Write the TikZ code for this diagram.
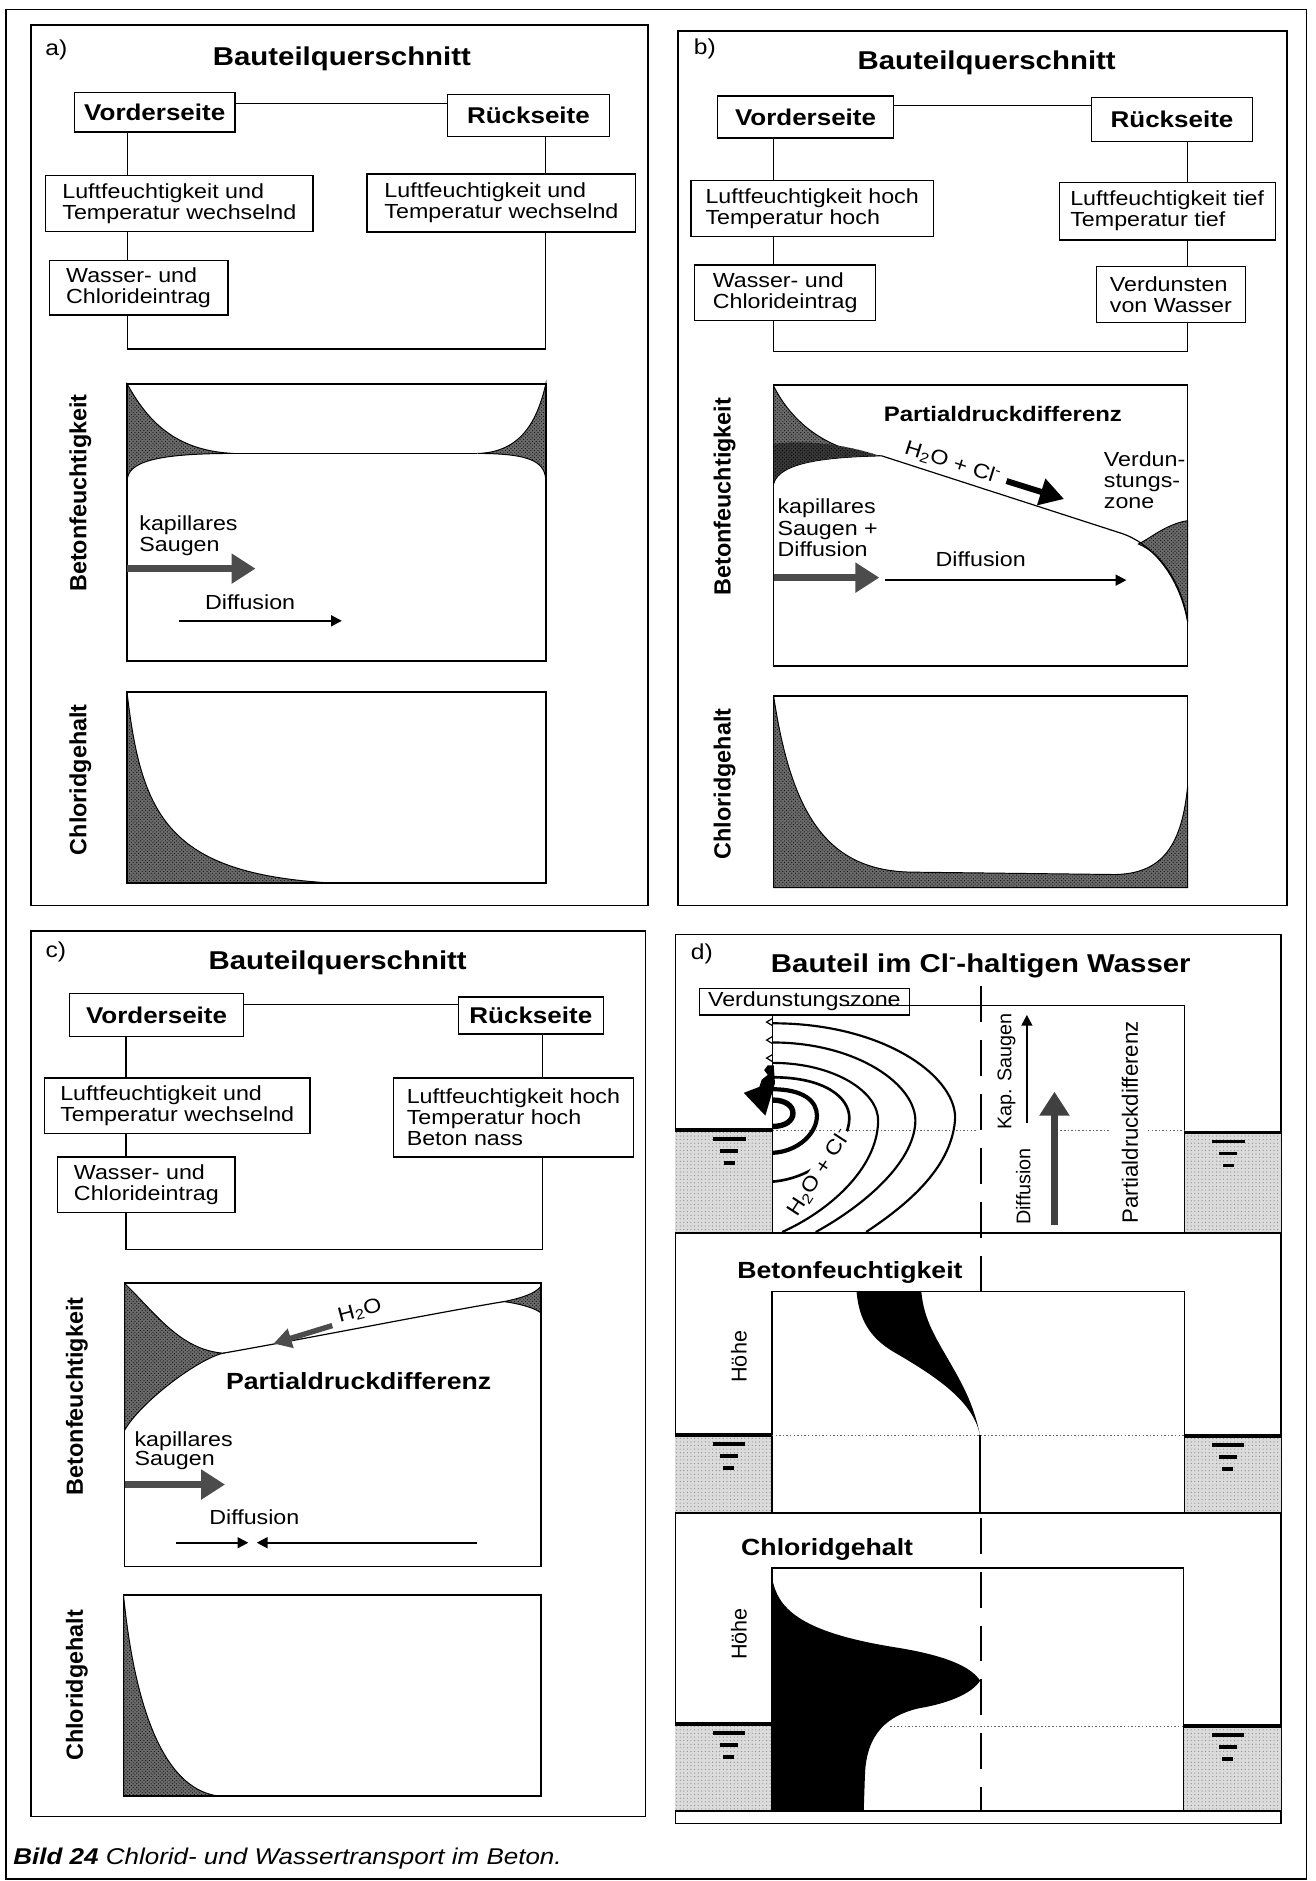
\documentclass[tikz,border=0pt]{standalone}
\usepackage{fontspec}
\setmainfont{Liberation Sans}[FakeStretch=1.14]
\newfontfamily\rotfam{Liberation Sans}
\usetikzlibrary{arrows.meta,patterns}
\newcommand{\fTxt}{\fontsize{17}{17.5}\selectfont}
\newcommand{\fLab}{\fontsize{18}{19}\selectfont}
\newcommand{\fBox}{\fontsize{19}{20}\selectfont\bfseries}
\newcommand{\fTtl}{\fontsize{21.5}{22}\selectfont\bfseries}
\newcommand{\fPdB}{\fontsize{17.5}{18}\selectfont\bfseries}
\newcommand{\fPdC}{\fontsize{19.5}{20}\selectfont\bfseries}
\newcommand{\fHdr}{\fontsize{19.5}{20}\selectfont\bfseries}
\newcommand{\fRotB}{\rotfam\fontsize{19.5}{20}\selectfont\bfseries}
\newcommand{\fRotN}{\rotfam\fontsize{16.5}{17}\selectfont}
\newcommand{\fRotH}{\rotfam\fontsize{18}{19}\selectfont}
\newcommand{\fRotP}{\rotfam\fontsize{18.5}{19}\selectfont}
\newcommand{\fCap}{\fontsize{19}{20}\selectfont}
\newcommand{\wsym}[3]{%
  \fill (#1-13.5,#2+6) rectangle (#1+13.5,#2+9);
  \fill (#1-7.5,#2+16) rectangle (#1+7.5,#2+19);
  \fill (#1-4.5,#2+26) rectangle (#1+4.5,#2+29);}
\tikzset{
  box/.style={draw, line width=1.1pt, fill=white, inner sep=0pt, align=left, font=\fTxt},
  vbox/.style={draw, line width=1.1pt, fill=white, inner sep=0pt, align=center, font=\fBox},
  conn/.style={line width=1.1pt},
  pframe/.style={line width=1.2pt},
  plotbox/.style={line width=1.2pt},
  hatch/.style={fill=black!58, postaction={pattern=crosshatch dots, pattern color=black!95}},
  dhatch/.style={fill=black!78, postaction={pattern=crosshatch dots, pattern color=black}},
  water/.style={fill=black!14, postaction={pattern=dots, pattern color=black!45}},
  fat/.style={line width=6pt, draw=black!70, -{Triangle[length=20pt,width=24pt]}},
  thinarr/.style={line width=1.8pt, -{Triangle[length=9pt,width=9pt]}},
  tx/.style={font=\fTxt, inner sep=0pt},
  ttl/.style={font=\fTtl, inner sep=0pt, anchor=base},
  rotb/.style={font=\fRotB, rotate=90, inner sep=0pt},
  rotn/.style={font=\fRotN, rotate=90, inner sep=0pt},
  crv/.style={line width=1pt},
  wline/.style={line width=3pt},
  dotl/.style={line width=1pt, black!60, dash pattern=on 1.2pt off 1.8pt},
  dashl/.style={line width=2pt, dash pattern=on 30pt off 15pt},
}
\begin{document}
\begin{tikzpicture}[x=1pt,y=-1pt]
\useasboundingbox (0,0) rectangle (1097,1568);
\fill[white] (0,0) rectangle (1097,1568);
% outer frame
\draw[line width=1.5pt] (5,8) rectangle (1089,1566);
\node[anchor=base west, font=\fCap, inner sep=0pt] (cap) at (11,1554) {\textbf{\textit{Bild 24}} \textit{Chlorid- und Wassertransport im Beton.}};

%================ PANEL A ================
\draw[pframe] (26,21) rectangle (540,755);
\node[font=\fLab, inner sep=0pt] (alab) at (47,42) {a)};
\node[ttl] (attl) at (285,55) {Bauteilquerschnitt};
\node[vbox, minimum width=134pt, minimum height=33pt] (aV) at (129,93.5) {Vorderseite};
\node[vbox, minimum width=135pt, minimum height=35pt] (aR) at (440.5,96.5) {Rückseite};
\node[box, minimum width=223pt, minimum height=46.5pt] (aL1) at (149.5,169.75) {Luftfeuchtigkeit und\\Temperatur wechselnd};
\node[box, minimum width=224pt, minimum height=48.5pt] (aR1) at (418,169.25) {Luftfeuchtigkeit und\\Temperatur wechselnd};
\node[box, minimum width=149pt, minimum height=45.5pt] (aW) at (115.5,239.75) {Wasser- und\\Chlorideintrag};
\coordinate (aXl) at (106,0); \coordinate (aXr) at (455,0);
\coordinate (aYt) at (0,86); \coordinate (aYb) at (0,291);
\draw[conn] (aV.east |- aYt) -- (aR.west |- aYt);
\draw[conn] (aV.south -| aXl) -- (aL1.north -| aXl);
\draw[conn] (aL1.south -| aXl) -- (aW.north -| aXl);
\draw[conn] (aW.south -| aXl) -- (aXl |- aYb) -- (aXr |- aYb) -- (aR1.south -| aXr);
\draw[conn] (aR.south -| aXr) -- (aR1.north -| aXr);
% moisture plot a
\path[hatch, draw, line width=0.8pt] (106,320) .. controls (125,355) and (150,376) .. (195,378) .. controls (130,378) and (106,385) .. (106,401) -- cycle;
\path[hatch, draw, line width=0.8pt] (455,320) .. controls (448,350) and (435,377) .. (398,378) .. controls (445,378) and (455,386) .. (455,402) -- cycle;
\draw[crv] (195,378) -- (398,378);
\draw[plotbox] (106,320) rectangle (455,551);
\node[rotb] (aBF) at (67,411) {Betonfeuchtigkeit};
\node[tx, anchor=base west] (ak1) at (116,442) {kapillares};
\node[tx, anchor=base west] (ak2) at (116,460) {Saugen};
\draw[fat] (106,474) -- (213,474);
\node[tx, anchor=base] (adif) at (208.5,508) {Diffusion};
\draw[thinarr] (149,517.5) -- (285,517.5);
% chloride plot a
\path[hatch, draw, line width=0.8pt] (106,578) .. controls (118,680) and (140,728) .. (275,736) -- (106,736) -- cycle;
\draw[plotbox] (106,577) rectangle (455,736);
\node[rotb] (aCG) at (67,650) {Chloridgehalt};

%================ PANEL B ================
\draw[pframe] (565,26) rectangle (1073,755);
\node[font=\fLab, inner sep=0pt] (blab) at (587.5,41) {b)};
\node[ttl] (bttl) at (822.5,58) {Bauteilquerschnitt};
\node[vbox, minimum width=147pt, minimum height=35pt] (bV) at (671.5,97.5) {Vorderseite};
\node[vbox, minimum width=134pt, minimum height=37pt] (bR) at (977,99.5) {Rückseite};
\node[box, minimum width=202pt, minimum height=46.5pt] (bL1) at (677,173.75) {Luftfeuchtigkeit hoch\\Temperatur hoch};
\node[box, minimum width=180pt, minimum height=48pt] (bR1) at (973,176) {Luftfeuchtigkeit tief\\Temperatur tief};
\node[box, minimum width=151pt, minimum height=46pt] (bW) at (654.5,244) {Wasser- und\\Chlorideintrag};
\node[box, minimum width=124pt, minimum height=47pt] (bVd) at (976,245.5) {Verdunsten\\von Wasser};
\coordinate (bXl) at (645,0); \coordinate (bXr) at (990,0);
\coordinate (bYt) at (0,88); \coordinate (bYb) at (0,293);
\draw[conn] (bV.east |- bYt) -- (bR.west |- bYt);
\draw[conn] (bV.south -| bXl) -- (bL1.north -| bXl);
\draw[conn] (bL1.south -| bXl) -- (bW.north -| bXl);
\draw[conn] (bW.south -| bXl) -- (bXl |- bYb) -- (bXr |- bYb) -- (bVd.south -| bXr);
\draw[conn] (bR.south -| bXr) -- (bR1.north -| bXr);
\draw[conn] (bR1.south -| bXr) -- (bVd.north -| bXr);
% moisture plot b
\path[hatch, draw, line width=0.8pt] (645,322) .. controls (660,352) and (690,377) .. (735,380) .. controls (690,381) and (650,385) .. (645,403) -- cycle;
\path[dhatch] (645,370) .. controls (675,366) and (710,372) .. (733,380) .. controls (690,381) and (650,385) .. (645,402) -- cycle;
\path[hatch, draw, line width=0.8pt] (990,434) .. controls (972,437) and (960,448) .. (949,453.5) .. controls (970,462) and (986,490) .. (990,518) -- cycle;
\draw[crv] (735,380) -- (933,444) .. controls (960,452) and (983,480) .. (990,518);
\draw[plotbox] (645,321) rectangle (990,555);
\node[rotb] (bBF) at (604,414) {Betonfeuchtigkeit};
\node[font=\fPdB, inner sep=0pt, anchor=base] (bPD) at (836,351) {Partialdruckdifferenz};
\node[tx, rotate=-17.5] (bHC) at (794,386) {H\textsubscript{2}O + Cl\textsuperscript{-}};
\draw[line width=5pt, -{Triangle[length=20pt,width=22pt]}] (839,401) -- (887,416);
\node[tx, anchor=base west] (bv1) at (920,389) {Verdun-};
\node[tx, anchor=base west] (bv2) at (920,406.5) {stungs-};
\node[tx, anchor=base west] (bv3) at (920,423.5) {zone};
\node[tx, anchor=base west] (bk1) at (648,428) {kapillares};
\node[tx, anchor=base west] (bk2) at (648,446) {Saugen +};
\node[tx, anchor=base west] (bk3) at (648,464) {Diffusion};
\draw[fat] (645,481.5) -- (733,481.5);
\node[tx, anchor=base] (bdif) at (817.5,472.6) {Diffusion};
\draw[thinarr] (738,483.6) -- (939,483.6);
% chloride plot b
\path[hatch, draw, line width=0.8pt] (645,581) .. controls (660,680) and (690,726) .. (760,727) -- (930,729) .. controls (965,728) and (985,710) .. (990,655) -- (990,740) -- (645,740) -- cycle;
\draw[plotbox] (645,580) rectangle (990,740);
\node[rotb] (bCG) at (604,653.5) {Chloridgehalt};

%================ PANEL C ================
\draw[pframe] (26,776) rectangle (538,1514);
\node[font=\fLab, inner sep=0pt] (clab) at (46.5,793.5) {c)};
\node[ttl] (cttl) at (281.5,808) {Bauteilquerschnitt};
\node[vbox, minimum width=145pt, minimum height=36pt] (cV) at (130.5,846) {Vorderseite};
\node[vbox, minimum width=121pt, minimum height=31pt] (cR) at (442.5,846.5) {Rückseite};
\node[box, minimum width=221.5pt, minimum height=46.4pt] (cL1) at (147.75,921.8) {Luftfeuchtigkeit und\\Temperatur wechselnd};
\node[box, minimum width=200pt, minimum height=66pt] (cR1) at (428,931.5) {Luftfeuchtigkeit hoch\\Temperatur hoch\\Beton nass};
\node[box, minimum width=148pt, minimum height=46.5pt] (cW) at (122,987.75) {Wasser- und\\Chlorideintrag};
\coordinate (cXl) at (105,0); \coordinate (cXr) at (452.5,0);
\coordinate (cYt) at (0,837.5); \coordinate (cYb) at (0,1041.7);
\draw[conn] (cV.east |- cYt) -- (cR.west |- cYt);
\draw[conn] (cV.south -| cXl) -- (cL1.north -| cXl);
\draw[conn] (cL1.south -| cXl) -- (cW.north -| cXl);
\draw[conn] (cW.south -| cXl) -- (cXl |- cYb) -- (cXr |- cYb) -- (cR1.south -| cXr);
\draw[conn] (cR.south -| cXr) -- (cR1.north -| cXr);
% moisture plot c
\path[hatch, draw, line width=0.8pt] (104,1070) .. controls (130,1095) and (150,1125) .. (186,1128) .. controls (165,1133) and (118,1168) .. (104,1192) -- cycle;
\path[hatch, draw, line width=0.8pt] (420,1085) .. controls (435,1082) and (447,1078) .. (451,1072) -- (451,1094.5) .. controls (447,1091) and (435,1087) .. (420,1085) -- cycle;
\draw[crv] (186,1128) .. controls (260,1115) and (360,1095) .. (420,1085);
\draw[plotbox] (104,1069.5) rectangle (451,1305.6);
\node[rotb] (cBF) at (64,1164) {Betonfeuchtigkeit};
\node[tx, rotate=15] (cH) at (300,1093) {H\textsubscript{2}O};
\draw[line width=4.5pt, draw=black!70, -{Triangle[length=15pt,width=16pt]}] (277,1105) -- (228,1120);
\node[font=\fPdC, inner sep=0pt, anchor=base] (cPD) at (299,1158) {Partialdruckdifferenz};
\node[tx, anchor=base west] (ck1) at (112,1205.6) {kapillares};
\node[tx, anchor=base west] (ck2) at (112,1222) {Saugen};
\draw[fat] (104,1237.5) -- (187.6,1237.5);
\node[tx, anchor=base] (cdif) at (212,1271) {Diffusion};
\draw[thinarr] (146.6,1286) -- (207,1286);
\draw[thinarr] (398,1286) -- (214,1286);
% chloride plot c
\path[hatch, draw, line width=0.8pt] (103,1330) .. controls (112,1420) and (135,1490) .. (181,1497) -- (103,1497) -- cycle;
\draw[plotbox] (103,1329.5) rectangle (451,1497);
\node[rotb] (cCG) at (64,1405) {Chloridgehalt};

%================ PANEL D ================
\draw[pframe] (563,779) rectangle (1068,1520);
\node[font=\fLab, inner sep=0pt] (dlab) at (585,795) {d)};
\node[ttl] (dttl) at (817.6,811) {Bauteil im Cl\textsuperscript{-}-haltigen Wasser};
% --- top section: element
\path[water] (563,942) rectangle (644,1028);
\path[water] (987.6,944) rectangle (1068,1028);
\draw[wline] (563,942) -- (644,942);
\draw[wline] (987.6,944) -- (1068,944);
\wsym{608}{942}{}
\wsym{1024}{944}{}
\draw[line width=1.2pt] (700,838) -- (987.6,838) -- (987.6,1028);
\draw[line width=1.2pt] (644,846) -- (644,1028);
\draw[line width=1.4pt] (563,1028) -- (1068,1028);
\draw[dotl] (644,942.5) -- (815,942.5);
\draw[dotl] (884,942.5) -- (925,942.5);
\draw[dotl] (957,942.5) -- (987.6,942.5);
% zigzag evaporation edge
\draw[line width=1pt] (644,849) -- (639,852) -- (644,855) (644,864) -- (639,867) -- (644,870) (644,879) -- (639,882) -- (644,885);
\fill (640,888) -- (637,892) -- (640,896) -- (635,900) -- (633,906) -- (620,911) -- (638,930) -- (646,903) -- (645,888) -- cycle;
% contours
\draw[line width=1.8pt] (644,853) .. controls (740,853) and (800,900) .. (796,935) .. controls (792,975) and (755,1005) .. (722,1027);
\draw[line width=1.8pt] (644,869) .. controls (715,869) and (765,905) .. (763,936) .. controls (761,970) and (720,1005) .. (680,1027);
\draw[line width=1.8pt] (644,886) .. controls (695,886) and (733,910) .. (732,935) .. controls (731,975) and (690,1010) .. (652,1027);
\draw[line width=2.2pt] (644,898) .. controls (688,898) and (708,915) .. (708,932) .. controls (708,955) and (680,982) .. (644,985);
\draw[line width=3.5pt] (644,908) .. controls (670,908) and (681,918) .. (681,930) .. controls (681,945) and (665,960) .. (644,961);
\draw[line width=4.5pt] (644,917) .. controls (655,917) and (661,922) .. (661,928) .. controls (661,934) and (655,939) .. (644,939);
\node[tx, rotate=57, fill=white, inner sep=0.5pt] (dHC) at (683,978) {H\textsubscript{2}O + Cl\textsuperscript{-}};
\node[draw, line width=1.1pt, fill=white, inner sep=0pt, font=\fTxt, minimum width=175pt, minimum height=22pt] (dVz) at (670.5,835) {Verdunstungszone};
\draw[line width=1.2pt] (dVz.east |- 0,838) -- (700,838);
\node[rotn, anchor=west] (dKS) at (839,941.7) {Kap. Saugen};
\draw[thinarr] (856,936) -- (856,846);
\node[rotn] (dDF) at (853,989) {Diffusion};
\draw[line width=5.5pt, draw=black!75, -{Triangle[length=20pt,width=24pt]}] (879,1021) -- (879,910);
\node[font=\fRotP, rotate=90, inner sep=0pt] (dPD) at (942,935.5) {Partialdruckdifferenz};
% --- moisture section
\node[font=\fHdr, inner sep=0pt, anchor=base] (dBF) at (708.5,1065.6) {Betonfeuchtigkeit};
\path[water] (563,1196) rectangle (643.5,1261);
\path[water] (987.6,1197) rectangle (1068,1261);
\draw[wline] (563,1196) -- (643.5,1196);
\draw[wline] (987.6,1197) -- (1068,1197);
\wsym{607.5}{1196}{}
\wsym{1023.5}{1197}{}
\draw[line width=1.2pt] (643.5,1261) -- (643.5,1076.5) -- (987.6,1076.5) -- (987.6,1261);
\draw[line width=1.4pt] (563,1261) -- (1068,1261);
\draw[dotl] (643.5,1196.6) -- (987.6,1196.6);
\fill (714,1076.5) .. controls (716,1100) and (725,1115) .. (745,1127) .. controls (785,1150) and (812,1170) .. (817,1197) .. controls (812,1170) and (800,1150) .. (792,1136) .. controls (780,1115) and (770,1100) .. (768,1076.5) -- cycle;
\draw[line width=1.5pt] (817,1196) -- (817,1261);
\node[font=\fRotH, rotate=90, inner sep=0pt] (dH1) at (616,1131) {Höhe};
% --- chloride section
\node[font=\fHdr, inner sep=0pt, anchor=base] (dCG) at (689.5,1297) {Chloridgehalt};
\path[water] (563,1437) rectangle (643.5,1509.5);
\path[water] (986.5,1439) rectangle (1068,1509.5);
\draw[wline] (563,1437) -- (643.5,1437);
\draw[wline] (986.5,1439) -- (1068,1439);
\wsym{607.5}{1437}{}
\wsym{1023.5}{1439}{}
\draw[dotl] (742,1439.5) -- (986.5,1439.5);
\fill (643.5,1315) .. controls (648,1340) and (665,1360) .. (745,1373) .. controls (790,1380) and (810,1390) .. (817,1401) .. controls (810,1412) and (790,1420) .. (766,1424) .. controls (740,1430) and (722,1445) .. (721,1480) -- (720,1509.5) -- (643.5,1509.5) -- cycle;
\draw[line width=1.2pt] (643.5,1509.5) -- (643.5,1307) -- (986.5,1307) -- (986.5,1509.5);
\draw[line width=1.4pt] (563,1509.5) -- (1068,1509.5);
\node[font=\fRotH, rotate=90, inner sep=0pt] (dH2) at (616,1362) {Höhe};
% dashed centre line
\draw[dashl] (817.5,822) -- (817.5,1076.5);
\draw[dashl] (817.5,1265) -- (817.5,1509.5);
\end{tikzpicture}
\end{document}
